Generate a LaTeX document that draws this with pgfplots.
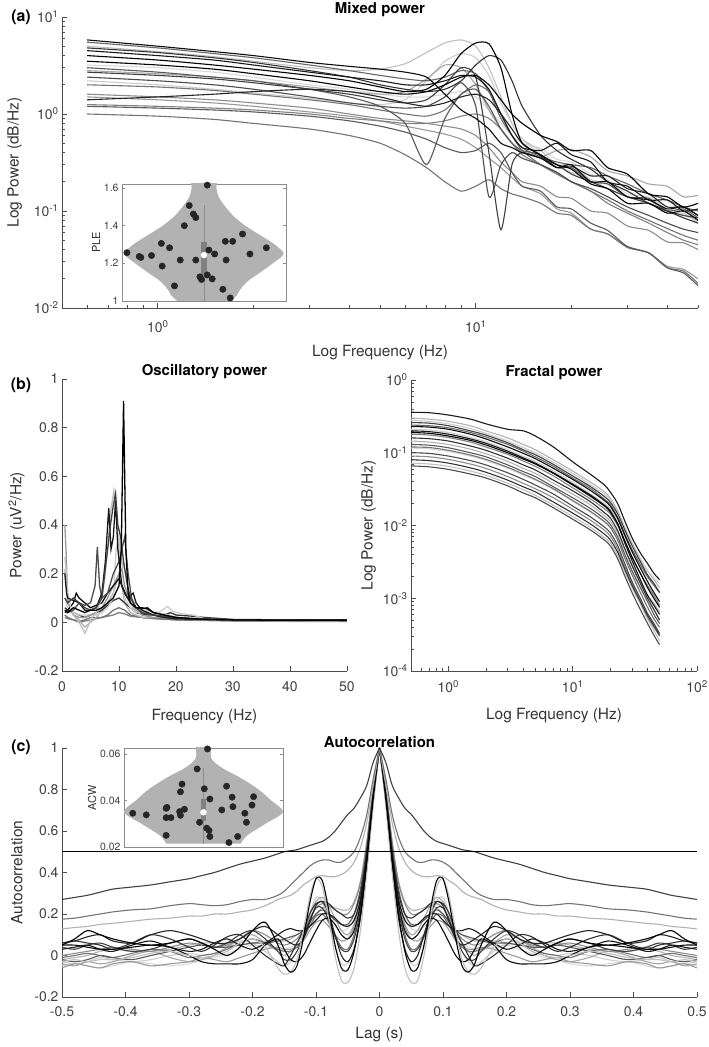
\documentclass[border=0pt]{standalone}
\usepackage{fontspec}
\setmainfont{TeX Gyre Heros}
\usepackage{pgfplots}
\usepackage{pgfplotstable}
\pgfplotsset{compat=1.18}

\pgfplotsset{
  base/.style={
    scale only axis,
    axis x line*=bottom, axis y line*=left,
    axis line style={black!70, line width=0.8bp},
    tick style={black!70, line width=0.6bp},
    major tick length=5bp, minor tick length=3bp,
    tick label style={font=\fontsize{14}{16}\selectfont, text=black!75},
    label style={font=\fontsize{15.5}{18}\selectfont, text=black!80},
    title style={font=\bfseries\fontsize{15}{18}\selectfont, yshift=-9bp},
    /pgf/number format/assume math mode=true,
    /pgf/number format/fixed,
  },
  inset/.style={
    scale only axis,
    axis background/.style={fill=white},
    axis line style={black!45, line width=0.6bp},
    tick style={black!45, line width=0.5bp},
    major tick length=3bp,
    xtick=\empty,
    scaled y ticks=false,
    tick label style={font=\fontsize{10.5}{12}\selectfont, text=black!75},
    label style={font=\fontsize{11}{12}\selectfont, text=black!80},
    /pgf/number format/assume math mode=true,
    /pgf/number format/fixed,
    xmin=-1, xmax=1,
  },
}

% ---------------- Mixed power (rows = subjects) ----------------
\pgfplotstableread{
name c1 c2 c3 c4 c5 c6 c7 c8 c9 c10 c11 c12 c13 c14 c15 c16 c17 c18 c19 c20 c21 c22 c23 c24 c25 c26
f 0.6 1 1.5 2 3 4 5 6 7 8 9 10 11 12 13 14 16 18 20 23 26 30 35 40 45 50
a1 4.0 3.6 3.2 2.9 2.5 2.2 1.9 1.7 1.8 2.5 4.2 5.4 5.3 3.0 1.0 0.5 0.38 0.3 0.27 0.19 0.17 0.12 0.12 0.095 0.1 0.08
a2 5.0 4.4 3.9 3.5 3.0 2.8 2.9 3.3 4.3 5.4 5.8 5.0 3.0 1.5 0.8 0.55 0.42 0.3 0.3 0.21 0.19 0.14 0.13 0.095 0.095 0.075
a3 5.8 5.0 4.4 4.0 3.4 3.1 2.9 2.7 2.4 1.6 1.1 0.9 0.7 0.5 0.45 0.4 0.35 0.28 0.3 0.2 0.2 0.14 0.13 0.105 0.11 0.09
a4 1.0 0.95 0.88 0.8 0.7 0.6 0.5 0.38 0.28 0.2 0.16 0.18 0.21 0.17 0.15 0.14 0.12 0.095 0.09 0.065 0.058 0.042 0.037 0.026 0.024 0.018
a5 1.2 1.15 1.1 1.05 0.95 0.85 0.75 0.65 0.55 0.45 0.4 0.42 0.5 0.4 0.25 0.18 0.16 0.11 0.105 0.075 0.063 0.043 0.037 0.026 0.023 0.017
a6 1.4 1.5 1.6 1.7 1.8 1.7 1.5 1.3 1.2 1.3 1.5 1.6 1.4 1.0 0.7 0.5 0.37 0.28 0.29 0.23 0.23 0.17 0.15 0.11 0.11 0.09
a7 1.6 1.5 1.4 1.3 1.15 1.0 0.9 0.85 0.8 0.75 0.7 0.6 0.45 0.32 0.25 0.2 0.18 0.14 0.135 0.1 0.095 0.07 0.063 0.048 0.047 0.04
a8 2.7 2.5 2.3 2.1 1.8 1.6 1.4 1.3 1.4 2.0 3.0 2.4 0.4 0.064 0.3 0.4 0.35 0.3 0.24 0.2 0.17 0.14 0.12 0.1 0.09 0.085
a9 2.4 2.2 2.0 1.8 1.5 1.3 1.2 1.15 1.2 1.5 2.1 1.2 0.14 0.3 0.4 0.35 0.3 0.25 0.2 0.17 0.14 0.11 0.09 0.075 0.065 0.06
a10 3.0 2.7 2.4 2.2 1.8 1.5 1.2 0.8 0.3 0.9 1.6 1.8 1.2 0.7 0.5 0.42 0.38 0.28 0.28 0.2 0.19 0.14 0.135 0.1 0.105 0.085
a11 2.2 2.0 1.8 1.65 1.45 1.3 1.25 1.4 2.2 3.5 4.2 3.8 2.5 1.3 0.8 0.55 0.38 0.3 0.25 0.21 0.17 0.14 0.12 0.1 0.09 0.08
a12 4.5 4.0 3.6 3.2 2.7 2.4 2.2 2.0 2.0 2.2 2.5 2.4 1.8 1.0 0.6 0.45 0.42 0.5 0.38 0.32 0.2 0.18 0.13 0.13 0.1 0.105
a13 1.25 1.2 1.15 1.1 1.0 0.9 0.85 0.8 0.8 0.85 0.95 1.0 0.9 0.7 0.5 0.38 0.3 0.25 0.2 0.16 0.12 0.095 0.075 0.06 0.05 0.045
a14 2.8 2.6 2.4 2.2 1.9 1.7 1.6 1.7 2.3 3.2 3.0 2.0 1.1 0.7 0.5 0.4 0.36 0.42 0.43 0.36 0.26 0.23 0.19 0.18 0.14 0.145
a15 5.5 4.8 4.2 3.8 3.2 2.8 2.5 2.3 2.2 2.4 2.8 2.6 1.7 0.9 0.6 0.45 0.36 0.32 0.3 0.28 0.23 0.19 0.15 0.13 0.11 0.1
a16 3.5 3.2 2.9 2.6 2.2 1.9 1.7 1.6 1.7 2.0 2.4 2.5 2.0 1.4 1.0 0.8 0.6 0.52 0.42 0.42 0.28 0.24 0.15 0.14 0.11 0.12
a17 1.5 1.4 1.3 1.2 1.05 0.95 0.85 0.75 0.68 0.62 0.55 0.45 0.35 0.28 0.22 0.18 0.15 0.105 0.095 0.065 0.058 0.043 0.037 0.027 0.025 0.02
a18 4.8 4.3 3.8 3.4 2.8 2.4 2.0 1.8 1.7 1.8 2.2 3.2 4.0 3.6 2.2 1.2 0.6 0.42 0.34 0.27 0.2 0.16 0.12 0.1 0.085 0.075
a19 3.2 3.0 2.7 2.4 2.0 1.8 1.6 1.5 1.5 1.6 1.7 1.5 1.1 0.8 0.6 0.5 0.44 0.34 0.32 0.24 0.21 0.15 0.14 0.105 0.1 0.085
a20 2.0 1.9 1.75 1.6 1.4 1.25 1.1 1.0 0.95 1.1 1.6 2.0 1.7 1.0 0.6 0.42 0.3 0.24 0.2 0.16 0.13 0.1 0.08 0.066 0.056 0.05
}\rawA
\pgfplotstabletranspose[colnames from=name]{\TA}{\rawA}

% ---------------- Fractal power ----------------
\pgfplotstableread{
name c1 c2 c3 c4 c5 c6 c7 c8 c9 c10 c11 c12 c13 c14 c15 c16 c17 c18 c19 c20
f 0.5 0.7 1 1.5 2 3 4 5 7 10 14 18 20 23 26 30 35 40 45 50
b1 0.36 0.355 0.33 0.29 0.25 0.21 0.20 0.17 0.12 0.075 0.05 0.036 0.029 0.02 0.012 0.0068 0.0042 0.003 0.0022 0.0018
b2 0.30 0.29 0.27 0.235 0.2 0.16 0.13 0.11 0.08 0.056 0.039 0.029 0.024 0.016 0.0098 0.0058 0.0035 0.0024 0.0018 0.0014
b3 0.26 0.255 0.235 0.2 0.175 0.137 0.11 0.094 0.069 0.048 0.034 0.025 0.021 0.0145 0.009 0.0053 0.0032 0.0021 0.0016 0.0012
b4 0.23 0.225 0.21 0.18 0.155 0.12 0.098 0.083 0.061 0.043 0.03 0.022 0.0185 0.0125 0.0076 0.0044 0.0026 0.0017 0.0012 0.0009
b5 0.21 0.205 0.19 0.163 0.142 0.11 0.089 0.076 0.056 0.039 0.027 0.02 0.017 0.0118 0.0074 0.0044 0.0027 0.0019 0.0015 0.0012
b6 0.2 0.195 0.18 0.155 0.135 0.105 0.085 0.072 0.053 0.037 0.026 0.019 0.016 0.0105 0.006 0.0033 0.0018 0.0011 0.0008 0.0006
b7 0.18 0.175 0.162 0.14 0.12 0.095 0.077 0.065 0.048 0.033 0.023 0.017 0.0145 0.01 0.0062 0.0036 0.0022 0.0015 0.0011 0.0008
b8 0.16 0.156 0.145 0.124 0.108 0.084 0.068 0.058 0.042 0.03 0.021 0.015 0.0128 0.0085 0.005 0.0028 0.0016 0.001 0.0007 0.0005
b9 0.145 0.14 0.13 0.112 0.097 0.076 0.061 0.052 0.038 0.027 0.019 0.0137 0.0115 0.0079 0.0049 0.0029 0.0017 0.0011 0.00085 0.00065
b10 0.13 0.127 0.117 0.1 0.088 0.068 0.055 0.047 0.034 0.024 0.017 0.0124 0.0104 0.007 0.0042 0.0024 0.0014 0.0009 0.0006 0.00045
b11 0.116 0.113 0.104 0.09 0.078 0.061 0.049 0.042 0.031 0.0215 0.015 0.011 0.0093 0.0064 0.0039 0.0023 0.0014 0.0009 0.0007 0.0005
b12 0.1 0.098 0.09 0.078 0.068 0.053 0.043 0.036 0.027 0.0185 0.013 0.0095 0.008 0.0053 0.0031 0.0017 0.001 0.00062 0.00045 0.00033
b13 0.09 0.088 0.081 0.07 0.061 0.047 0.038 0.032 0.024 0.0167 0.0117 0.0086 0.0072 0.0048 0.0028 0.0016 0.0009 0.00055 0.0004 0.0003
b14 0.08 0.078 0.072 0.062 0.054 0.042 0.034 0.029 0.021 0.0148 0.0104 0.0076 0.0064 0.0043 0.0026 0.0015 0.0009 0.00058 0.00042 0.00031
b15 0.072 0.07 0.065 0.056 0.049 0.038 0.031 0.026 0.019 0.0133 0.0094 0.0068 0.0058 0.0039 0.0024 0.0014 0.00083 0.00052 0.00036 0.00026
b16 0.066 0.064 0.059 0.051 0.045 0.035 0.028 0.024 0.0175 0.0122 0.0086 0.0063 0.0053 0.0035 0.0021 0.0012 0.0007 0.00045 0.00031 0.00023
b17 0.24 0.235 0.22 0.19 0.165 0.13 0.105 0.088 0.065 0.045 0.032 0.023 0.0195 0.013 0.008 0.0047 0.0029 0.002 0.0015 0.0012
b18 0.19 0.185 0.17 0.148 0.128 0.1 0.082 0.07 0.052 0.036 0.025 0.0185 0.0155 0.0105 0.0064 0.0037 0.0022 0.0014 0.001 0.00075
b19 0.12 0.118 0.108 0.093 0.081 0.063 0.051 0.043 0.032 0.022 0.0155 0.0113 0.0095 0.0063 0.0037 0.0021 0.0012 0.00075 0.00052 0.0004
b20 0.28 0.27 0.25 0.215 0.185 0.145 0.118 0.1 0.074 0.052 0.036 0.027 0.0225 0.0152 0.0094 0.0056 0.0034 0.0024 0.0019 0.0016
}\rawB
\pgfplotstabletranspose[colnames from=name]{\TB}{\rawB}

% ---------------- Autocorrelation (lag >= 0) ----------------
\pgfplotstableread{
name c1 c2 c3 c4 c5 c6 c7 c8 c9 c10 c11 c12 c13 c14 c15 c16 c17 c18 c19 c20 c21 c22 c23 c24 c25 c26 c27 c28 c29 c30 c31 c32
lag 0 0.01 0.02 0.03 0.04 0.05 0.06 0.07 0.08 0.09 0.10 0.11 0.12 0.13 0.14 0.15 0.16 0.18 0.20 0.22 0.24 0.26 0.28 0.30 0.33 0.36 0.39 0.42 0.44 0.46 0.48 0.50
r1 1 0.93 0.82 0.76 0.71 0.68 0.64 0.6 0.57 0.55 0.54 0.53 0.52 0.51 0.505 0.5 0.49 0.47 0.455 0.44 0.42 0.40 0.385 0.37 0.355 0.34 0.33 0.32 0.305 0.29 0.28 0.27
r2 1 0.85 0.68 0.57 0.5 0.47 0.45 0.45 0.46 0.46 0.45 0.43 0.4 0.37 0.34 0.31 0.29 0.27 0.27 0.26 0.245 0.24 0.245 0.25 0.24 0.225 0.22 0.21 0.2 0.19 0.18 0.175
r3 1 0.82 0.64 0.52 0.45 0.41 0.39 0.38 0.38 0.385 0.38 0.36 0.34 0.31 0.29 0.28 0.27 0.24 0.22 0.21 0.2 0.2 0.19 0.19 0.18 0.175 0.165 0.155 0.15 0.14 0.135 0.128
r4 1 0.75 0.45 0.2 0.02 -0.07 -0.06 0.05 0.22 0.36 0.37 0.25 0.08 -0.05 -0.08 -0.04 0.05 0.16 0.12 0.04 0.0 0.03 0.06 0.08 0.06 0.05 0.06 0.08 0.1 0.12 0.08 0.05
r5 1 0.72 0.4 0.12 -0.06 -0.13 -0.12 0 0.18 0.33 0.37 0.28 0.12 -0.02 -0.08 -0.09 -0.06 0.04 0.08 0.06 0.02 0 -0.01 0 0.02 0.01 -0.01 -0.02 -0.02 -0.03 -0.02 -0.03
r6 1 0.78 0.5 0.3 0.2 0.18 0.2 0.22 0.25 0.26 0.25 0.2 0.12 0.06 0 -0.05 -0.04 0 0.05 0.1 0.09 0.05 0.02 0.04 0.08 0.1 0.06 0.03 0.05 0.06 0.07 0.06
r7 1 0.8 0.55 0.35 0.25 0.2 0.2 0.22 0.24 0.25 0.23 0.18 0.12 0.08 0.06 0.05 0.06 0.1 0.12 0.08 0.05 0.04 0.05 0.06 0.04 0.02 0.03 0.04 0.03 0.02 0.01 0
r8 1 0.76 0.48 0.25 0.12 0.08 0.1 0.15 0.18 0.17 0.12 0.06 0 -0.03 -0.02 0.03 0.08 0.05 -0.02 -0.04 -0.04 -0.04 -0.03 0 0.04 0.05 0.04 0.03 0.03 0.04 0.05 0.05
r9 1 0.77 0.5 0.28 0.15 0.1 0.12 0.18 0.24 0.28 0.26 0.2 0.12 0.06 0.02 0 0.02 0.06 0.1 0.08 0.04 0 -0.02 -0.03 -0.01 0.02 0 -0.03 -0.04 -0.03 -0.05 -0.04
r10 1 0.79 0.52 0.32 0.2 0.15 0.15 0.17 0.2 0.22 0.2 0.16 0.12 0.1 0.09 0.08 0.07 0.06 0.06 0.05 0.04 0.04 0.05 0.04 0.02 0 -0.02 -0.01 0 -0.02 -0.03 -0.02
r11 1 0.78 0.5 0.3 0.18 0.13 0.12 0.14 0.17 0.2 0.19 0.15 0.1 0.06 0.04 0.03 0.03 0.04 0.05 0.03 0.01 -0.01 -0.02 -0.04 -0.05 -0.04 -0.03 -0.05 -0.06 -0.05 -0.04 -0.05
r12 1 0.74 0.42 0.18 0.03 -0.03 0 0.1 0.2 0.26 0.24 0.16 0.08 0.05 0.06 0.08 0.1 0.14 0.12 0.08 0.06 0.06 0.08 0.1 0.12 0.1 0.06 0.07 0.1 0.09 0.07 0.06
r13 1 0.76 0.46 0.24 0.1 0.03 0.04 0.1 0.16 0.2 0.19 0.14 0.08 0.04 0.02 0.02 0.03 0.06 0.08 0.06 0.03 0.01 0 -0.01 0.02 0.03 0.01 -0.01 0 0.01 0 -0.01
r14 1 0.8 0.54 0.36 0.26 0.22 0.22 0.23 0.24 0.23 0.2 0.16 0.12 0.1 0.08 0.07 0.07 0.07 0.06 0.05 0.05 0.06 0.06 0.05 0.03 0.02 0.02 0.03 0.02 0 -0.01 -0.02
r15 1 0.75 0.45 0.22 0.08 0.02 0.03 0.09 0.17 0.23 0.23 0.17 0.09 0.02 -0.02 -0.02 0.02 0.08 0.12 0.1 0.06 0.04 0.06 0.08 0.06 0.03 0.02 0.04 0.06 0.05 0.03 0.04
r16 1 0.78 0.5 0.28 0.14 0.08 0.07 0.1 0.14 0.17 0.16 0.12 0.07 0.04 0.03 0.03 0.04 0.03 0.01 -0.01 -0.03 -0.02 -0.01 -0.03 -0.04 -0.05 -0.03 -0.04 -0.06 -0.05 -0.04 -0.06
r17 1 0.77 0.48 0.27 0.17 0.14 0.15 0.18 0.2 0.2 0.17 0.14 0.12 0.12 0.13 0.12 0.1 0.06 0.03 0.05 0.08 0.06 0.03 0.02 0.04 0.07 0.05 0.02 0.03 0.05 0.04 0.03
r18 1 0.74 0.43 0.19 0.04 -0.04 -0.04 0.04 0.16 0.26 0.28 0.2 0.1 0.02 -0.03 -0.05 -0.03 0.02 0.06 0.07 0.04 0.01 0 0.01 0 -0.02 -0.03 -0.02 -0.01 -0.03 -0.04 -0.03
}\rawC
\pgfplotstabletranspose[colnames from=name]{\TC}{\rawC}

\begin{document}
\begin{tikzpicture}
\useasboundingbox (0,0) rectangle (709bp,1047bp);

% ======================= (a) Mixed power =======================
\begin{axis}[base, at={(62bp,739bp)}, anchor=south west, width=636bp, height=291bp,
  xmode=log, ymode=log, xmin=0.5, xmax=50, ymin=0.01, ymax=10,
  xtick={1,10}, xticklabels={10\textsuperscript{0},10\textsuperscript{1}},
  minor xtick={0.6,0.7,0.8,0.9,2,3,4,5,6,7,8,9,20,30,40,50},
  ytick={0.01,0.1,1,10},
  yticklabels={10\textsuperscript{-2},10\textsuperscript{-1},10\textsuperscript{0},10\textsuperscript{1}},
  minor ytick={0.02,0.03,0.04,0.05,0.06,0.07,0.08,0.09,0.2,0.3,0.4,0.5,0.6,0.7,0.8,0.9,2,3,4,5,6,7,8,9},
  xticklabel shift=9bp, xlabel style={yshift=-6bp}, ylabel shift=5bp,
  xlabel={Log Frequency (Hz)}, ylabel={Log Power (dB/Hz)}, title={Mixed power},
  every axis plot/.append style={line width=1.1bp, smooth, tension=0.4}]
\addplot[black!15] table[x=f,y=a19]{\TA};
\addplot[black!25] table[x=f,y=a2]{\TA};
\addplot[black!20] table[x=f,y=a11]{\TA};
\addplot[black!35] table[x=f,y=a14]{\TA};
\addplot[black!40] table[x=f,y=a17]{\TA};
\addplot[black!45] table[x=f,y=a7]{\TA};
\addplot[black!50] table[x=f,y=a13]{\TA};
\addplot[black!55] table[x=f,y=a4]{\TA};
\addplot[black!55] table[x=f,y=a20]{\TA};
\addplot[black!60] table[x=f,y=a15]{\TA};
\addplot[black!65] table[x=f,y=a5]{\TA};
\addplot[black!65] table[x=f,y=a10]{\TA};
\addplot[black!70] table[x=f,y=a9]{\TA};
\addplot[black!75] table[x=f,y=a8]{\TA};
\addplot[black!80] table[x=f,y=a18]{\TA};
\addplot[black!85] table[x=f,y=a6]{\TA};
\addplot[black!90] table[x=f,y=a12]{\TA};
\addplot[black!95] table[x=f,y=a3]{\TA};
\addplot[black] table[x=f,y=a16]{\TA};
\addplot[black] table[x=f,y=a1]{\TA};
\end{axis}
\node[font=\bfseries\fontsize{16}{18}\selectfont] at (21bp,1030bp) {(a)};

% inset PLE violin
\begin{axis}[inset, at={(122bp,746bp)}, anchor=south west, width=164bp, height=117bp,
  ymin=1, ymax=1.62, ytick={1,1.2,1.4,1.6}, ylabel={PLE}, ylabel shift=-3bp]
\addplot[fill=black!30, draw=none, smooth, tension=0.5] coordinates {
 (0.33,0.98)(0.33,1.0)(0.40,1.03)(0.44,1.06)(0.52,1.10)(0.68,1.15)(0.84,1.20)(0.97,1.25)(0.86,1.30)(0.68,1.35)(0.50,1.40)(0.36,1.45)(0.26,1.50)(0.18,1.55)(0.15,1.60)(0.14,1.64)
 (-0.14,1.64)(-0.15,1.60)(-0.18,1.55)(-0.26,1.50)(-0.36,1.45)(-0.50,1.40)(-0.68,1.35)(-0.86,1.30)(-0.97,1.25)(-0.84,1.20)(-0.68,1.15)(-0.52,1.10)(-0.44,1.06)(-0.40,1.03)(-0.33,1.0)(-0.33,0.98)} --cycle;
\addplot[black!45, line width=0.8bp] coordinates {(0,1.0)(0,1.51)};
\addplot[fill=black!50, draw=none] coordinates {(-0.035,1.135)(0.035,1.135)(0.035,1.315)(-0.035,1.315)} --cycle;
\addplot[only marks, mark=*, mark size=3.2bp, mark options={fill=black!85, draw=black!85}] coordinates {
 (-0.94,1.256)(-0.79,1.236)(-0.77,1.231)(-0.64,1.241)(-0.52,1.305)(-0.51,1.185)(-0.42,1.282)(-0.36,1.080)(-0.29,1.217)(-0.24,1.399)(-0.18,1.506)(-0.13,1.461)(-0.10,1.442)(-0.10,1.217)(-0.05,1.128)(-0.03,1.114)(0.04,1.614)(0.06,1.270)(0.04,1.138)(0.10,1.117)(0.13,1.249)(0.23,1.062)(0.19,0.996)(0.24,0.996)(0.32,1.016)(0.27,1.217)(0.26,1.316)(0.35,1.316)(0.47,1.355)(0.56,1.249)(0.76,1.282)};
\addplot[only marks, mark=*, mark size=3bp, mark options={fill=white, draw=white}] coordinates {(0,1.243)};
\end{axis}

% ======================= (b) Oscillatory power =======================
\begin{axis}[base, at={(62bp,376bp)}, anchor=south west, width=285bp, height=292bp,
  xmin=0, xmax=50, ymin=-0.2, ymax=1,
  xtick={0,10,20,30,40,50}, ytick={-0.2,0,0.2,0.4,0.6,0.8,1},
  xticklabel shift=7bp, xlabel style={yshift=-11bp}, ylabel shift=3bp,
  xlabel={Frequency (Hz)}, ylabel={Power (uV\textsuperscript{2}/Hz)}, title={Oscillatory power},
  every axis plot/.append style={line width=1.3bp}]
\addplot[black!50] coordinates {(0.5,0.02)(1,0.015)(2,0.01)(3,0.0)(4,0.005)(5,0.01)(6,0.015)(7,0.02)(8,0.025)(9,0.03)(10,0.04)(11,0.035)(12,0.025)(14,0.02)(16,0.015)(20,0.01)(30,0.005)(50,0.003)};
\addplot[black!55] coordinates {(0.5,0.03)(1,0.02)(2,0.01)(3,0.005)(4,0.01)(5,0.02)(6,0.02)(7,0.02)(8,0.03)(9,0.05)(10,0.06)(11,0.05)(12,0.03)(14,0.02)(20,0.01)(50,0.005)};
\addplot[black!30] coordinates {(0.5,0.22)(1,0.08)(2,0.03)(3,0.01)(4,-0.02)(5,0.0)(6,0.02)(7,0.05)(8,0.08)(9,0.12)(10,0.2)(10.5,0.15)(11,0.08)(12,0.04)(14,0.02)(18,0.02)(20,0.02)(30,0.008)(50,0.005)};
\addplot[black!80] coordinates {(0.5,0.06)(1,0.05)(2,0.04)(3,0.03)(4,0.02)(5,0.03)(6,0.04)(7,0.05)(8,0.07)(9,0.09)(10,0.1)(11,0.08)(12,0.06)(13,0.04)(15,0.03)(18,0.03)(19,0.04)(20,0.03)(23,0.025)(25,0.02)(30,0.012)(50,0.008)};
\addplot[black!20] coordinates {(0.5,0.1)(1,0.06)(2,0.04)(3,0.03)(4,0.03)(5,0.03)(6,0.03)(7,0.04)(8,0.06)(9,0.1)(9.5,0.3)(10,0.35)(10.5,0.25)(11,0.1)(12,0.06)(13,0.04)(15,0.05)(17,0.04)(18.5,0.065)(19.5,0.045)(21,0.035)(23,0.03)(25,0.015)(30,0.01)(50,0.006)};
\addplot[black!40] coordinates {(0.5,0.4)(0.7,0.3)(1,0.1)(1.5,0.05)(2,0.03)(3,0.02)(4,0.02)(5,0.03)(6,0.04)(7,0.06)(8,0.1)(9,0.15)(10,0.2)(10.5,0.22)(11,0.15)(12,0.08)(13,0.05)(14,0.03)(16,0.02)(18,0.02)(20,0.015)(25,0.01)(50,0.006)};
\addplot[black!95] coordinates {(0.5,0.04)(1,0.05)(2,0.08)(2.5,0.12)(3,0.1)(4,0.08)(5,0.06)(6,0.07)(7,0.08)(8,0.12)(9,0.15)(10,0.18)(11,0.12)(12,0.08)(13,0.06)(14,0.055)(15,0.06)(16,0.04)(18,0.03)(20,0.02)(22,0.015)(28,0.012)(30,0.01)(50,0.01)};
\addplot[black!25] coordinates {(0.5,0.27)(0.8,0.2)(1,0.12)(1.5,0.06)(2,0.03)(3,0.0)(3.7,-0.03)(4,-0.045)(4.5,-0.02)(5,0.01)(6,0.04)(7,0.1)(7.5,0.18)(8,0.3)(8.5,0.45)(9.1,0.54)(9.6,0.42)(10,0.3)(10.5,0.25)(11,0.22)(11.5,0.15)(12,0.08)(13,0.04)(14,0.04)(15,0.045)(16,0.03)(18,0.035)(20,0.02)(25,0.012)(30,0.008)(50,0.006)};
\addplot[black!70] coordinates {(0.5,0.05)(1,0.04)(2,0.05)(3,0.08)(4,0.07)(5,0.08)(5.8,0.15)(6.2,0.31)(6.6,0.15)(7,0.1)(8,0.12)(9,0.2)(10,0.25)(10.5,0.3)(11,0.35)(11.6,0.2)(12.2,0.1)(13,0.06)(14,0.04)(16,0.03)(18,0.02)(20,0.015)(30,0.01)(50,0.008)};
\addplot[black!90] coordinates {(0.5,0.2)(0.8,0.12)(1,0.1)(2,0.09)(3,0.08)(4,0.05)(5,0.05)(6,0.06)(7,0.12)(7.6,0.25)(8.2,0.47)(8.6,0.3)(9,0.35)(9.4,0.5)(9.8,0.3)(10.5,0.15)(11.5,0.1)(12.5,0.12)(13,0.08)(14,0.05)(16,0.03)(18,0.02)(20,0.015)(30,0.01)(50,0.008)};
\addplot[black!75] coordinates {(0.5,0.1)(1,0.08)(2,0.1)(3,0.08)(4,0.06)(5,0.05)(6,0.06)(7,0.1)(7.5,0.2)(8,0.3)(8.5,0.4)(9,0.48)(9.4,0.53)(9.8,0.4)(10.3,0.35)(10.8,0.25)(11.5,0.15)(12,0.1)(13,0.06)(14,0.04)(16,0.03)(18,0.025)(20,0.02)(25,0.012)(30,0.01)(50,0.008)};
\addplot[black] coordinates {(0.5,0.05)(1,0.04)(2,0.06)(3,0.05)(4,0.04)(5,0.05)(6,0.05)(7,0.06)(8,0.08)(9,0.1)(10,0.15)(10.4,0.3)(10.8,0.91)(11.0,0.6)(11.2,0.3)(11.6,0.12)(12,0.08)(13,0.06)(14,0.06)(15,0.055)(16,0.04)(18,0.03)(20,0.02)(25,0.012)(30,0.01)(40,0.008)(50,0.008)};
\end{axis}
\node[font=\bfseries\fontsize{16}{18}\selectfont] at (21bp,662bp) {(b)};

% ======================= (b) Fractal power =======================
\begin{axis}[base, at={(411bp,376bp)}, anchor=south west, width=286bp, height=291bp,
  xmode=log, ymode=log, xmin=0.5, xmax=100, ymin=0.0001, ymax=1,
  xtick={1,10,100}, xticklabels={10\textsuperscript{0},10\textsuperscript{1},10\textsuperscript{2}},
  minor xtick={0.6,0.7,0.8,0.9,2,3,4,5,6,7,8,9,20,30,40,50,60,70,80,90},
  ytick={0.0001,0.001,0.01,0.1,1},
  yticklabels={10\textsuperscript{-4},10\textsuperscript{-3},10\textsuperscript{-2},10\textsuperscript{-1},10\textsuperscript{0}},
  minor ytick={0.0002,0.0003,0.0004,0.0005,0.0006,0.0007,0.0008,0.0009,0.002,0.003,0.004,0.005,0.006,0.007,0.008,0.009,0.02,0.03,0.04,0.05,0.06,0.07,0.08,0.09,0.2,0.3,0.4,0.5,0.6,0.7,0.8,0.9},
  xticklabel shift=6bp, xlabel style={yshift=-9bp},
  xlabel={Log Frequency (Hz)}, ylabel={Log Power (dB/Hz)}, title={Fractal power},
  every axis plot/.append style={line width=1.1bp, smooth, tension=0.5}]
\addplot[black!15] table[x=f,y=b11]{\TB};
\addplot[black!20] table[x=f,y=b5]{\TB};
\addplot[black!25] table[x=f,y=b15]{\TB};
\addplot[black!30] table[x=f,y=b2]{\TB};
\addplot[black!30] table[x=f,y=b9]{\TB};
\addplot[black!20] table[x=f,y=b20]{\TB};
\addplot[black!45] table[x=f,y=b13]{\TB};
\addplot[black!50] table[x=f,y=b7]{\TB};
\addplot[black!55] table[x=f,y=b19]{\TB};
\addplot[black!60] table[x=f,y=b17]{\TB};
\addplot[black!65] table[x=f,y=b10]{\TB};
\addplot[black!70] table[x=f,y=b12]{\TB};
\addplot[black!70] table[x=f,y=b16]{\TB};
\addplot[black!75] table[x=f,y=b3]{\TB};
\addplot[black!80] table[x=f,y=b8]{\TB};
\addplot[black!80] table[x=f,y=b14]{\TB};
\addplot[black!90] table[x=f,y=b6]{\TB};
\addplot[black!95] table[x=f,y=b4]{\TB};
\addplot[black] table[x=f,y=b18]{\TB};
\addplot[black!90] table[x=f,y=b1]{\TB};
\end{axis}

% ======================= (c) Autocorrelation =======================
\begin{axis}[base, at={(62bp,50bp)}, anchor=south west, width=635bp, height=249bp,
  xmin=-0.5, xmax=0.5, ymin=-0.2, ymax=1,
  xtick={-0.5,-0.4,-0.3,-0.2,-0.1,0,0.1,0.2,0.3,0.4,0.5},
  ytick={-0.2,0,0.2,0.4,0.6,0.8,1},
  xticklabel shift=6bp, xlabel style={yshift=-4bp}, ylabel shift=5bp,
  xlabel={Lag (s)}, ylabel={Autocorrelation}, title={Autocorrelation},
  every axis plot/.append style={line width=1.1bp, smooth, tension=0.5}]
\addplot[black!15] table[x=lag,y=r11]{\TC};
\addplot[black!15] table[x expr=-\thisrow{lag},y=r11]{\TC};
\addplot[black!20] table[x=lag,y=r18]{\TC};
\addplot[black!20] table[x expr=-\thisrow{lag},y=r18]{\TC};
\addplot[black!30] table[x=lag,y=r14]{\TC};
\addplot[black!30] table[x expr=-\thisrow{lag},y=r14]{\TC};
\addplot[black!35] table[x=lag,y=r9]{\TC};
\addplot[black!35] table[x expr=-\thisrow{lag},y=r9]{\TC};
\addplot[black!40] table[x=lag,y=r16]{\TC};
\addplot[black!40] table[x expr=-\thisrow{lag},y=r16]{\TC};
\addplot[black!45] table[x=lag,y=r7]{\TC};
\addplot[black!45] table[x expr=-\thisrow{lag},y=r7]{\TC};
\addplot[black!55] table[x=lag,y=r13]{\TC};
\addplot[black!55] table[x expr=-\thisrow{lag},y=r13]{\TC};
\addplot[black!65] table[x=lag,y=r10]{\TC};
\addplot[black!65] table[x expr=-\thisrow{lag},y=r10]{\TC};
\addplot[black!75] table[x=lag,y=r15]{\TC};
\addplot[black!75] table[x expr=-\thisrow{lag},y=r15]{\TC};
\addplot[black!80] table[x=lag,y=r6]{\TC};
\addplot[black!80] table[x expr=-\thisrow{lag},y=r6]{\TC};
\addplot[black!85] table[x=lag,y=r12]{\TC};
\addplot[black!85] table[x expr=-\thisrow{lag},y=r12]{\TC};
\addplot[black!90] table[x=lag,y=r17]{\TC};
\addplot[black!90] table[x expr=-\thisrow{lag},y=r17]{\TC};
\addplot[black!95] table[x=lag,y=r8]{\TC};
\addplot[black!95] table[x expr=-\thisrow{lag},y=r8]{\TC};
\addplot[black!25] table[x=lag,y=r5]{\TC};
\addplot[black!25] table[x expr=-\thisrow{lag},y=r5]{\TC};
\addplot[black] table[x=lag,y=r4]{\TC};
\addplot[black] table[x expr=-\thisrow{lag},y=r4]{\TC};
\addplot[black!30] table[x=lag,y=r3]{\TC};
\addplot[black!30] table[x expr=-\thisrow{lag},y=r3]{\TC};
\addplot[black!55] table[x=lag,y=r2]{\TC};
\addplot[black!55] table[x expr=-\thisrow{lag},y=r2]{\TC};
\addplot[black!75] table[x=lag,y=r1]{\TC};
\addplot[black!75] table[x expr=-\thisrow{lag},y=r1]{\TC};
\addplot[black, line width=1bp, sharp plot] coordinates {(-0.5,0.5)(0.5,0.5)};
\end{axis}
\node[font=\bfseries\fontsize{16}{18}\selectfont] at (21bp,300bp) {(c)};

% inset ACW violin
\begin{axis}[inset, at={(124bp,200bp)}, anchor=south west, width=159bp, height=99bp,
  ymin=0.02, ymax=0.0625, ytick={0.02,0.04,0.06}, ylabel={ACW}, ylabel shift=-3bp,
  yticklabel style={/pgf/number format/precision=2}]
\addplot[fill=black!30, draw=none, smooth, tension=0.5] coordinates {
 (0.47,0.0215)(0.55,0.025)(0.78,0.030)(1.0,0.035)(0.85,0.040)(0.68,0.045)(0.45,0.050)(0.28,0.053)(0.15,0.056)(0.10,0.058)(0.09,0.060)(0.09,0.064)
 (-0.09,0.064)(-0.09,0.060)(-0.10,0.058)(-0.15,0.056)(-0.28,0.053)(-0.45,0.050)(-0.68,0.045)(-0.85,0.040)(-1.0,0.035)(-0.78,0.030)(-0.55,0.025)(-0.47,0.0215)} --cycle;
\addplot[black!45, line width=0.8bp] coordinates {(0,0.0215)(0,0.054)};
\addplot[fill=black!50, draw=none] coordinates {(-0.035,0.031)(0.035,0.031)(0.035,0.0405)(-0.035,0.0405)} --cycle;
\addplot[only marks, mark=*, mark size=3.2bp, mark options={fill=black!85, draw=black!85}] coordinates {
 (-0.89,0.0345)(-0.72,0.0338)(-0.47,0.0366)(-0.46,0.0370)(-0.47,0.0326)(-0.41,0.0326)(-0.47,0.0250)(-0.30,0.0352)(-0.29,0.0336)(-0.24,0.0362)(-0.29,0.0437)(-0.27,0.0470)(-0.08,0.0535)(-0.05,0.0306)(0.01,0.0450)(0.05,0.0621)(0.08,0.0406)(0.04,0.0281)(0.07,0.0271)(0.08,0.0245)(0.23,0.0359)(0.29,0.0461)(0.36,0.0414)(0.37,0.0373)(0.32,0.0219)(0.43,0.0245)(0.52,0.0345)(0.54,0.0306)(0.61,0.0380)(0.63,0.0416)};
\addplot[only marks, mark=*, mark size=3bp, mark options={fill=white, draw=white}] coordinates {(0,0.0349)};
\end{axis}
\end{tikzpicture}
\end{document}
